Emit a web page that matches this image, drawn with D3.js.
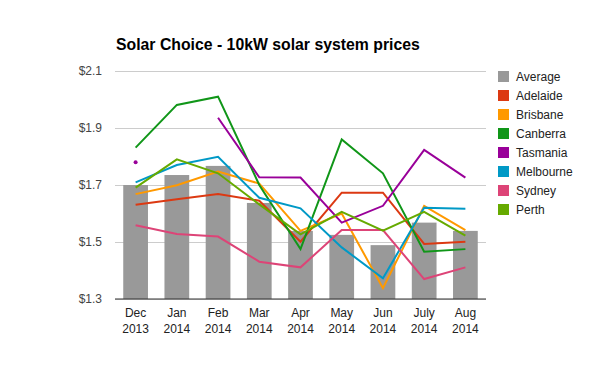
<!DOCTYPE html>
<html>
<head>
<meta charset="utf-8">
<script src="https://cdn.jsdelivr.net/npm/d3@7"></script>
<style>
  body { margin: 0; background: #fff; }
  svg { font-family: Arial, "Liberation Sans", sans-serif; }
</style>
</head>
<body>
<div id="chart"></div>
<script>
// months on the x axis (two lines each)
var months = ["Dec", "Jan", "Feb", "Mar", "Apr", "May", "Jun", "July", "Aug"]
var years = ["2013", "2014", "2014", "2014", "2014", "2014", "2014", "2014", "2014"]
var yTicks = [1.3, 1.5, 1.7, 1.9, 2.1]

// average price (bars)
var average = [1.70, 1.735, 1.767, 1.637, 1.539, 1.525, 1.489, 1.568, 1.539]

// city prices (lines), null = no data
var adelaide = [1.631, 1.650, 1.668, 1.645, 1.501, 1.673, 1.673, 1.493, 1.501]
var brisbane = [1.668, 1.699, 1.747, 1.705, 1.539, 1.600, 1.338, 1.627, 1.542]
var canberra = [1.831, 1.981, 2.010, 1.700, 1.475, 1.860, 1.741, 1.466, 1.475]
var tasmania = [1.780, null, 1.936, 1.727, 1.726, 1.568, 1.627, 1.823, 1.726]
var melbourne = [1.709, 1.770, 1.799, 1.655, 1.618, 1.481, 1.373, 1.620, 1.617]
var sydney = [1.559, 1.528, 1.519, 1.431, 1.411, 1.542, 1.542, 1.370, 1.411]
var perth = [1.691, 1.790, 1.741, 1.632, 1.527, 1.606, 1.540, 1.606, 1.522]

var seriesNames = ["Adelaide", "Brisbane", "Canberra", "Tasmania", "Melbourne", "Sydney", "Perth"]
var seriesValues = [adelaide, brisbane, canberra, tasmania, melbourne, sydney, perth]
var colors = ["#dc3912", "#ff9900", "#109618", "#990099", "#0099c6", "#dd4477", "#66aa00"]
var barColor = "#999999"

var width = 600, height = 371
var margin = {top: 71, right: 114, bottom: 72, left: 115}

var svg = d3.select("#chart").append("svg")
    .attr("width", width)
    .attr("height", height)

var xScale = d3.scaleBand()
    .domain(months)
    .range([margin.left, width - margin.right])
    .paddingInner(0.4)
    .paddingOuter(0.2)
var yScale = d3.scaleLinear()
    .domain([1.3, 2.1])
    .range([height - margin.bottom, margin.top])

// title
svg.append("text")
    .attr("x", 116)
    .attr("y", 50)
    .attr("font-size", 15.8)
    .attr("font-weight", "bold")
    .attr("fill", "#000")
    .text("Solar Choice - 10kW solar system prices")

// gridlines + y labels
var yAxis = d3.axisLeft(yScale)
    .tickValues(yTicks)
    .tickSize(-(width - margin.left - margin.right))
    .tickPadding(13)
    .tickFormat(function(d) { return "$" + d3.format(".1f")(d) })
var gy = svg.append("g")
    .attr("transform", "translate(" + margin.left + ",0)")
    .call(yAxis)
gy.select(".domain").remove()
gy.selectAll(".tick line").attr("stroke", "#cccccc")
gy.selectAll(".tick text")
    .attr("fill", "#444")
    .attr("font-size", 12)
    .attr("font-family", "Arial, 'Liberation Sans', sans-serif")

// bars
svg.selectAll(".bar")
    .data(average)
    .enter().append("rect")
    .attr("class", "bar")
    .attr("x", function(d, i) { return xScale(months[i]) })
    .attr("width", xScale.bandwidth())
    .attr("y", function(d) { return yScale(d) })
    .attr("height", function(d) { return yScale(1.3) - yScale(d) })
    .attr("fill", barColor)

// baseline
svg.append("line")
    .attr("x1", margin.left)
    .attr("x2", width - margin.right)
    .attr("y1", yScale(1.3))
    .attr("y2", yScale(1.3))
    .attr("stroke", "#333")
    .attr("stroke-width", 1.2)

// x labels
var xl = svg.selectAll(".xlab")
    .data(months)
    .enter().append("text")
    .attr("class", "xlab")
    .attr("text-anchor", "middle")
    .attr("font-size", 12)
    .attr("fill", "#222")
    .attr("x", function(d) { return xScale(d) + xScale.bandwidth() / 2 })
xl.append("tspan")
    .attr("y", 317)
    .text(function(d) { return d })
xl.append("tspan")
    .attr("x", function(d) { return xScale(d) + xScale.bandwidth() / 2 })
    .attr("y", 333)
    .text(function(d, i) { return years[i] })

// lines
var lineGen = d3.line()
    .defined(function(d) { return d != null })
    .x(function(d, i) { return xScale(months[i]) + xScale.bandwidth() / 2 })
    .y(function(d) { return yScale(d) })

for (var s = 0; s < seriesValues.length; s++) {
    var vals = seriesValues[s]
    svg.append("path")
        .attr("d", lineGen(vals))
        .attr("fill", "none")
        .attr("stroke", colors[s])
        .attr("stroke-width", 2)
    // isolated points get a dot
    for (var i = 0; i < vals.length; i++) {
        var prev = i > 0 ? vals[i - 1] : null
        var next = i < vals.length - 1 ? vals[i + 1] : null
        if (vals[i] != null && prev == null && next == null) {
            svg.append("circle")
                .attr("cx", xScale(months[i]) + xScale.bandwidth() / 2)
                .attr("cy", yScale(vals[i]))
                .attr("r", 2)
                .attr("fill", colors[s])
        }
    }
}

// legend
var legendNames = ["Average"].concat(seriesNames)
var legendColors = [barColor].concat(colors)
var legend = svg.selectAll(".leg")
    .data(legendNames)
    .enter().append("g")
    .attr("class", "leg")
    .attr("transform", function(d, i) { return "translate(498," + (71 + i * 19) + ")" })
legend.append("rect")
    .attr("width", 11)
    .attr("height", 11)
    .attr("fill", function(d, i) { return legendColors[i] })
legend.append("text")
    .attr("x", 18)
    .attr("y", 10)
    .attr("font-size", 12)
    .attr("fill", "#222")
    .text(function(d) { return d })
</script>
</body>
</html>
